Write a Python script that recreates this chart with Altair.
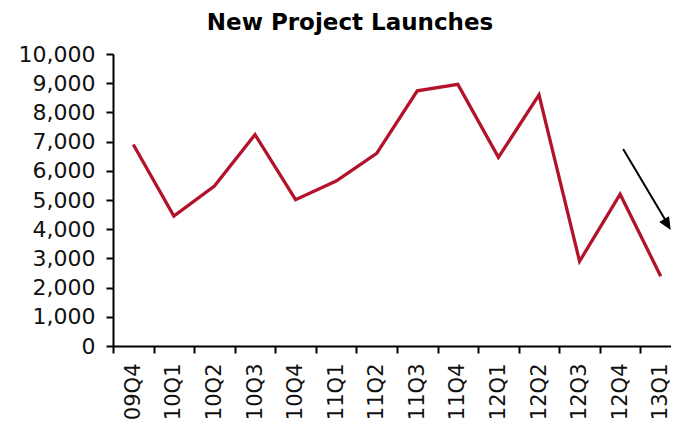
import altair as alt
import pandas as pd

quarters = ["09Q4", "10Q1", "10Q2", "10Q3", "10Q4", "11Q1", "11Q2",
            "11Q3", "11Q4", "12Q1", "12Q2", "12Q3", "12Q4", "13Q1"]
launches = [6900, 4450, 5480, 7240, 5010, 5650, 6600,
            8740, 8960, 6460, 8600, 2900, 5200, 2390]
y_ticks = [0, 1000, 2000, 3000, 4000, 5000, 6000, 7000, 8000, 9000, 10000]

arrow_from = ["12Q4"]
arrow_to = ["13Q1"]
arrow_start = [6750]
arrow_end = [4240]
arrow_tip = [3970]

df = pd.DataFrame({"quarter": quarters, "launches": launches})
arrow_df = pd.DataFrame({"q1": arrow_from, "q2": arrow_to,
                         "v1": arrow_start, "v2": arrow_end, "tip": arrow_tip})

FONT = "DejaVu Sans"
xscale = alt.Scale(type="band", domain=quarters, paddingInner=0, paddingOuter=0)
yscale = alt.Scale(domain=[0, 10000])

xaxis = alt.Axis(title=None, tickBand="extent", labelAngle=270,
                 labelFont=FONT, labelFontSize=21, labelColor="#111",
                 labelPadding=10, tickSize=7, tickWidth=2, tickColor="black",
                 domainColor="black", domainWidth=2, grid=False,
                 labelOverlap=False)
yaxis = alt.Axis(title=None, values=y_ticks, format=",.0f",
                 labelFont=FONT, labelFontSize=22, labelColor="#111",
                 labelPadding=11, tickSize=7, tickWidth=2, tickColor="black",
                 domainColor="black", domainWidth=2, grid=False,
                 labelOverlap=False)

line = alt.Chart(df).mark_line(color="#B2132B", strokeWidth=3.3, strokeJoin="miter").encode(
    x=alt.X("quarter:N", scale=xscale, bandPosition=0.5, axis=xaxis),
    y=alt.Y("launches:Q", scale=yscale, axis=yaxis),
)

shaft = alt.Chart(arrow_df).mark_rule(color="black", strokeWidth=2, xOffset=3, x2Offset=6).encode(
    x=alt.X("q1:N", scale=xscale, bandPosition=0.5, axis=xaxis),
    x2="q2:N",
    y=alt.Y("v1:Q", scale=yscale, axis=yaxis),
    y2="v2:Q",
)

head = alt.Chart(arrow_df).mark_point(shape="M0,0L-0.45,1L0.45,1Z", filled=True, color="black",
                                      size=650, angle=149, opacity=1,
                                      xOffset=10).encode(
    x=alt.X("q2:N", scale=xscale, bandPosition=0.5, axis=xaxis),
    y=alt.Y("tip:Q", scale=yscale, axis=yaxis),
)

chart = alt.layer(line, shaft, head).properties(
    width=568, height=292,
    autosize=alt.AutoSizeParams(type="none"),
    padding={"left": 105, "top": 46, "right": -10, "bottom": 86},
    title=alt.Title("New Project Launches", font=FONT, fontSize=23, fontWeight="bold",
                    color="black", anchor="middle", frame="bounds", offset=8),
).configure_view(stroke=None)

chart.save("out.html", embed_options={"renderer": "svg", "actions": False})
